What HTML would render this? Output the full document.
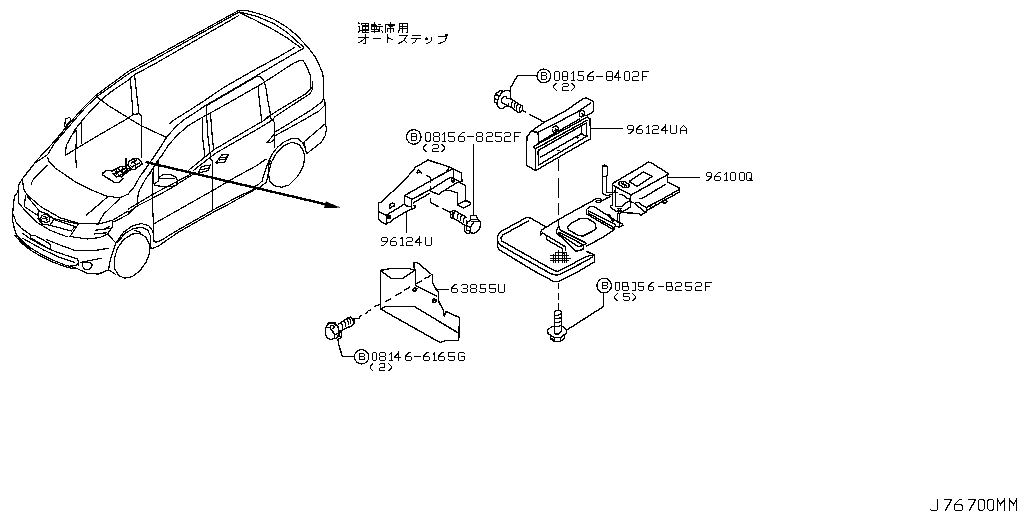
<!DOCTYPE html>
<html><head><meta charset="utf-8"><title>J76700MM</title>
<style>
html,body{margin:0;padding:0;background:#fff;font-family:"Liberation Sans",sans-serif;}
svg{display:block;position:absolute;left:0;top:0}
</style></head>
<body>
<svg width="1024" height="512" viewBox="0 0 1024 512" shape-rendering="crispEdges">
<rect width="1024" height="512" fill="#fff"/>
<g fill="none" stroke="#000" stroke-width="1.2" stroke-linejoin="round" stroke-linecap="butt">
<path d="M52.00,144.00 L66.00,127.50 L71.00,121.50 L83.50,107.50 L95.00,96.00 L112.50,83.00 L128.00,71.60 L142.40,63.50 L190.00,37.30 L238.60,10.50 L246.50,10.50
M54.00,144.00 L68.00,127.50 L85.00,108.00 L97.00,96.50 L113.00,85.00 L129.00,73.50 L146.75,63.75 L238.60,12.30
M67.25,143.75 L74.75,130.00 L83.50,118.75 L101.00,100.00 L110.00,92.50 L128.50,80.00 L134.00,75.00 L155.00,63.70 L238.60,15.60
M65.40,118.75 L69.75,117.50 L71.00,120.00 L68.50,122.50 L66.00,126.25 L64.75,126.25 L65.40,118.75
M246.50,10.60 L261.50,14.40 L274.00,19.40 L286.50,26.90 L296.50,35.00 L307.50,46.90
M239.00,11.90 L256.50,16.25 L274.00,23.75 L286.50,31.90 L304.00,47.50
M239.00,12.50 L255.00,20.00 L274.00,30.00 L286.50,37.50 L301.00,48.00
M307.50,46.90 L314.60,56.00 L319.00,64.75 L322.75,73.50 L323.50,81.00 L323.50,97.25 L324.00,99.00 L325.00,102.25 L325.50,119.75 L325.50,123.25 L326.50,129.50 L325.25,135.75 L321.50,142.00 L306.50,153.90
M169.25,124.00 L174.25,119.75 L186.75,112.00 L203.00,101.60 L224.00,87.25 L256.00,69.00 L279.00,56.60 L294.60,47.50
M141.00,175.00 L146.75,167.00 L153.00,158.25 L160.50,147.00 L166.75,137.00 L175.50,127.00 L184.25,119.50 L194.25,113.25 L205.50,105.40 L224.00,94.75 L256.00,76.00 L289.00,56.60 L304.00,48.00
M205.50,106.20 L224.00,95.50 L256.00,76.80
M149.25,175.00 L153.00,168.25 L158.00,160.00 L161.75,155.75 L168.00,145.75 L176.75,135.75 L188.00,125.75 L198.00,119.75 L210.50,112.90 L224.00,105.40 L259.00,85.40 L265.25,81.60 L294.00,62.90 L300.25,60.40 L303.40,61.00 L306.50,66.00 L310.25,75.40 L311.00,89.00 L305.25,94.00 L271.00,114.75 L265.25,118.50
M312.50,81.00 L312.50,89.00 L310.25,93.50 L274.00,117.25
M256.00,76.00 L260.25,76.60 L264.00,81.00 L266.00,88.50 L267.75,99.75 L270.50,114.75 L270.50,117.60 L274.50,122.60 L274.50,148.25
M258.40,86.00 L259.00,97.25 L261.50,119.75 L261.50,122.00
M295.25,119.75 L311.50,109.75 L321.50,102.25 L323.40,98.50
M304.00,119.75 L319.00,111.00 L324.00,106.00
M275.00,132.00 L295.25,119.75
M275.00,135.75 L304.00,119.75
M188.00,170.75 L214.25,149.50 L256.00,125.00 L261.50,122.00 L271.00,115.50
M193.00,170.75 L215.50,153.25 L256.00,130.00 L270.25,121.40 L274.00,118.50
M275.00,134.50 L274.00,134.50 L267.00,142.50 L270.25,142.50 L275.00,138.90
M325.00,123.90 L304.00,142.00 L306.50,153.90
M251.50,188.00 L257.75,185.00 L262.00,181.25 L264.00,174.50 L266.50,167.00 L269.00,160.75 L272.75,153.25 L277.75,147.00 L284.00,142.00 L291.50,138.50 L297.75,138.50 L302.75,142.60 L305.25,148.25 L306.50,153.90
M267.75,175.75 L271.50,162.00 L276.50,153.25 L282.75,146.40 L292.00,142.00 L299.00,144.50 L302.75,149.50 L304.00,153.25
M304.00,153.25 L304.60,159.50 L302.75,167.50 L297.75,176.25 L289.00,185.00 L281.50,187.25 L274.00,185.60 L269.60,181.25 L268.40,172.50 L269.00,163.75 L271.00,160.00
M130.40,79.00 L133.00,114.40
M134.50,75.00 L139.00,113.75
M128.50,118.00 L133.00,114.40 L139.00,113.75 L141.50,116.25 L141.50,125.60 L141.50,157.60
M96.00,96.25 L101.00,100.00 L108.50,105.60 L128.50,118.00 L141.00,125.60 L166.75,137.60
M128.50,118.00 L96.25,136.60 L65.25,155.40 L66.25,145.40 L71.25,136.00 L76.60,130.00
M76.50,130.00 L76.50,136.00 L75.60,154.75 L76.50,168.50
M81.50,121.25 L81.50,143.50
M52.00,144.00 L36.25,161.00 L22.50,178.50 L18.75,184.75 L18.00,191.50 L14.40,196.50 L13.00,209.00 L12.50,220.25 L13.75,226.50 L16.25,234.00 L20.00,239.00 L25.00,244.00 L30.00,247.75
M58.75,136.00 L47.50,154.75 L35.00,162.90 L23.75,177.25
M47.50,156.60 L48.75,161.00 L55.00,167.90 L75.00,181.60 L92.50,190.40 L106.25,196.00 L120.00,197.90 L128.00,194.00
M47.50,164.75 L32.50,180.40 L31.25,184.75
M107.50,197.00 L86.25,215.25
M120.00,198.40 L103.75,214.00 L98.75,222.75
M22.50,178.50 L23.00,184.00 L23.75,189.00 L26.90,194.60 L41.25,207.00 L60.00,217.75 L78.75,223.40 L98.75,224.00 L112.50,220.25 L128.00,211.00
M113.50,222.00 L128.00,214.50 L137.40,205.50
M18.50,191.50 L18.50,202.75 L23.75,209.00 L37.50,222.75 L50.00,230.25 L67.50,237.00
M25.60,194.60 L24.40,206.50 L37.50,215.25 L38.75,210.25 L26.90,195.90
M38.75,210.25 L55.00,219.00 L77.50,224.00
M38.75,211.00 L47.50,214.00 L53.75,219.60 L50.00,225.25 L42.50,224.00 L38.00,219.00 L38.75,211.00
M53.75,219.60 L75.00,226.50 L71.25,231.00 L50.00,225.25
M37.50,215.25 L42.50,224.00
M41.50,216.00 L44.00,214.50 L48.00,215.00 L50.00,218.00 L49.00,221.50 L45.50,222.50 L42.00,221.00 L40.80,218.50 L41.50,216.00
M42.50,218.00 L48.50,219.50
M43.50,216.50 L47.00,217.50 L46.50,221.00
M78.75,223.40 L70.00,236.50 L87.50,239.00 L100.00,237.50 L107.50,234.00 L112.50,226.50 L112.50,220.25
M95.00,230.25 L110.00,228.40
M93.75,234.00 L107.50,232.75
M104.00,229.00 L110.00,226.50
M107.50,234.00 L115.00,242.00 L116.90,242.60
M108.50,269.75 L110.40,259.75 L114.75,246.00 L116.00,242.90 L123.50,232.25 L132.25,226.00 L141.00,223.50 L148.50,225.40 L152.90,231.00 L154.00,241.00
M117.25,242.90 L124.75,233.50 L133.50,228.50 L142.25,227.25 L147.90,230.40 L150.40,236.00 L151.00,249.00
M133.50,229.80 L141.00,232.50
M139.75,233.50 L146.00,237.25 L149.50,244.75 L149.50,253.50 L146.00,262.25 L139.75,271.00 L132.25,276.60 L124.75,278.25 L118.50,275.40 L114.50,268.50 L114.50,258.50 L117.25,248.50 L123.50,239.75 L132.25,234.00 L139.75,233.50
M153.00,171.75 L152.50,184.25 L152.50,205.50 L153.50,223.60 L153.50,241.00 L156.00,242.25 L161.00,240.40 L175.50,231.50 L213.00,210.00 L240.25,195.50 L252.75,190.00 L260.25,187.00 L266.50,182.00 L267.75,175.75
M151.00,249.00 L158.50,246.00 L178.00,232.50 L215.50,211.00 L224.00,206.90 L242.75,196.25 L255.25,189.40
M154.25,223.60 L211.75,191.00 L238.00,175.75 L256.00,166.00 L264.00,160.50 L266.50,159.00
M96.00,274.75 L103.50,272.25 L108.50,269.75 L116.00,274.75
M15.60,233.25 L22.50,241.40 L31.25,248.25 L41.25,254.50 L52.50,260.00 L65.00,265.00 L75.00,267.60 L87.50,273.50 L98.75,273.50 L108.75,270.00
M14.50,235.00 L21.50,243.00 L30.25,250.00 L40.50,256.20 L52.00,261.70 L64.50,266.50 L75.00,269.00
M22.50,233.25 L31.25,239.50 L50.00,249.50 L65.00,255.00 L77.50,258.90 L78.75,262.00 L76.25,265.50 L70.00,265.50
M22.50,238.25 L43.75,250.00 L60.00,257.60 L75.00,262.60
M30.60,235.50 L35.00,235.50 L42.50,239.50 L50.00,243.90 L50.60,249.50 L42.50,245.00 L30.50,237.60 L30.50,235.00
M46.25,239.50 L60.00,245.00 L75.00,250.50 L95.00,250.50 L108.75,248.25
M82.00,265.50 L83.00,262.80 L86.00,262.50 L90.00,262.50 L92.20,264.50 L91.50,267.50 L88.50,269.50 L84.50,269.50 L82.00,265.50
M80.00,262.60 L92.50,260.00 L101.90,258.25
M78.50,262.00 L78.50,266.00
M158.60,178.00 L163.00,174.50 L170.50,174.50 L176.00,177.40 L177.40,180.50 L176.75,184.90 L171.75,186.50 L164.25,186.50 L154.50,185.50 L154.50,183.60 L158.50,181.00 L158.50,178.00
M153.50,167.00 L153.50,184.00
M158.90,178.50 L174.50,178.50
M158.00,159.50 L158.60,181.00
M128.00,209.25 L137.40,203.50 L151.75,194.90 L190.50,174.25
M128.00,212.40 L138.00,205.50 L151.75,198.60 L169.25,189.25 L188.00,177.40 L195.50,173.00
M146.75,168.00 L140.50,175.50 L134.25,186.75 L128.00,194.25
M152.40,169.25 L145.50,179.25 L139.25,190.50 L138.00,195.50 L137.40,205.50
M202.50,118.25 L202.50,137.00 L205.00,157.00
M206.50,106.00 L206.50,113.25 L208.00,137.00 L210.50,157.00 L211.00,159.50 L212.50,160.75 L212.50,210.00
M210.50,113.25 L211.75,130.75 L213.60,150.00
M215.50,163.25 L221.75,155.00 L228.60,154.50 L225.00,162.00 L215.50,163.25
M219.00,160.00 L226.00,159.00
M220.50,157.50 L227.50,157.00
M198.00,173.25 L201.75,166.40 L210.50,165.00 L208.00,170.75 L198.00,173.25
M200.00,170.00 L209.00,168.00
M12.80,222.00 L14.50,229.00 L17.00,235.50 L21.00,241.00 L26.00,246.00 L31.00,249.50
M13.30,214.00 L16.00,222.00 L21.00,228.00 L30.60,234.80"/>
</g>
<g fill="none" stroke="#000" stroke-width="1.4" stroke-linejoin="round" stroke-linecap="butt">
<path d="M378.30,202.50 L381.00,202.50 L389.25,194.60 L400.50,184.00 L413.75,170.00 L415.00,167.50 L423.75,162.50 L428.00,160.00 L449.40,167.00 L446.25,172.00 L430.60,180.60
M426.25,175.60 L430.50,177.50 L430.50,182.50
M416.50,173.00 L418.50,170.00 L422.00,173.50
M416.50,173.00 L420.00,172.50
M449.40,167.00 L453.00,168.50 L461.25,173.00 L462.00,181.25 L459.40,183.00
M453.50,168.50 L453.50,182.50
M453.00,168.50 L424.90,184.00 L406.75,194.30 L404.50,195.60
M450.00,177.50 L430.50,189.60 L411.75,199.30 L405.50,195.90
M404.50,195.60 L404.50,204.30 L406.75,205.90 L411.00,206.80 L412.00,209.00
M411.50,199.30 L411.50,209.00 L406.10,211.60 L400.50,215.00 L394.25,218.75 L389.90,222.20 L387.40,223.10 L386.40,224.40 L380.50,221.25 L378.50,219.40 L378.50,202.40
M413.00,203.10 L430.00,193.10
M412.00,209.00 L414.25,208.00 L415.80,206.20 L413.00,205.50
M430.50,186.25 L430.50,191.25 L438.75,194.40 L443.75,190.50 L450.00,190.50 L457.50,193.00 L457.50,205.00 L463.75,208.00 L470.50,204.40 L470.50,202.50 L465.50,200.00 L465.50,185.60 L460.00,183.00
M457.50,204.40 L465.00,200.60 L470.60,203.00
M450.00,177.50 L459.40,181.25 L445.00,190.00
M451.00,179.00 L452.50,178.00 L454.50,179.00 L454.50,181.00 L452.50,182.00 L451.50,181.00 L451.50,179.00
M451.00,180.50 L454.00,180.50
M378.30,211.25 L386.50,215.30 L386.50,224.40
M386.10,215.30 L389.90,212.80 L395.50,209.70 L400.50,206.60 L404.25,204.00
M389.30,206.50 L390.30,204.30 L392.50,203.20 L394.50,204.00 L394.50,205.80 L392.50,206.50 L390.30,208.00 L389.30,207.80 L389.30,206.50
M386.75,215.50 L390.50,215.50 L390.50,218.50 L386.75,218.50
M386.75,217.50 L390.50,217.50
M387.00,216.50 L390.50,216.50
M406.50,211.90 L406.50,232.50
M473.50,144.40 L473.50,215.60
M450.40,212.40 L453.50,210.25 L457.90,212.40 L466.60,217.40
M450.50,212.40 L450.50,217.40 L456.60,220.00 L463.50,224.50 L465.40,224.50
M454.60,211.30 L453.50,214.30 L453.50,217.50
M458.40,213.20 L457.50,216.20 L457.50,219.40
M461.60,215.00 L460.50,218.00 L460.50,221.20
M464.60,216.80 L463.50,219.80 L463.50,223.00
M452.80,211.20 L452.20,214.50 L453.00,218.00
M465.40,224.60 L464.50,225.90 L464.50,230.90 L466.60,233.50 L469.75,233.50
M466.50,220.25 L466.50,230.25 L468.50,230.90
M470.00,216.20 L473.50,214.90 L476.60,216.20 L477.90,219.60 L480.50,222.10 L480.50,225.90 L479.10,229.00 L476.60,232.10 L473.50,233.40 L470.70,232.75 L470.50,230.25 L470.50,227.10
M470.50,216.20 L470.50,220.60 L467.25,222.10 L466.60,224.60
M470.00,219.50 L477.25,219.50
M471.00,221.50 L479.10,221.50
M474.10,221.50 L471.00,226.50 L470.40,227.10
M467.25,225.90 L470.40,227.10
M469.50,230.25 L469.50,233.40
M536.90,75.50 L517.50,75.50 L512.70,84.00 L510.50,87.75 L510.50,90.90
M503.00,90.50 L500.80,90.50 L498.30,91.80 L495.80,94.00 L494.50,96.20 L494.50,102.50 L496.10,102.50 L498.00,106.50 L500.50,108.50 L503.00,108.50 L505.50,106.50 L510.50,106.50
M503.00,90.50 L501.10,93.40 L498.90,97.10 L497.50,100.90 L497.50,104.60
M494.90,98.70 L498.00,100.25
M496.00,94.50 L499.00,96.00
M503.00,91.50 L506.75,90.25 L509.90,90.90 L510.50,92.10 L510.50,98.70
M504.25,96.20 L502.00,98.40 L501.40,101.50 L503.00,103.40 L506.75,105.25 L508.00,105.90
M504.25,96.50 L506.50,96.50 L506.50,98.50 L510.50,98.50
M508.50,102.75 L508.50,105.90
M510.50,98.70 L522.50,106.20 L522.50,110.25 L520.50,112.50 L518.00,112.50 L510.20,106.50
M512.80,100.20 L511.50,103.40 L511.50,106.50
M515.60,101.90 L514.50,105.10 L514.50,108.20
M518.40,103.60 L516.50,106.80 L516.50,109.90
M521.00,105.30 L519.50,108.50 L519.50,111.60
M526.90,136.90 L531.25,131.25 L538.00,132.50 L538.75,142.50
M526.90,136.90 L526.25,165.00 L535.50,170.60 L535.50,148.75
M531.25,131.25 L543.75,122.50 L565.00,111.25 L582.50,99.00 L586.25,97.75 L593.50,101.50 L593.50,111.50 L587.50,115.25
M538.00,132.50 L555.00,123.75 L577.50,111.90 L591.00,102.75
M538.75,142.50 L580.00,118.75
M533.75,146.90 L536.25,145.00 L587.50,116.90 L590.00,118.75 L590.60,138.75 L535.60,170.60
M533.75,146.90 L535.60,148.75 L587.50,120.00
M538.00,150.60 L586.25,123.00 L586.90,136.25 L538.75,165.00 L538.00,150.60
M581.50,126.25 L581.50,133.75 L586.25,136.25
M581.25,133.75 L540.00,157.50
M556.50,150.50 L559.50,150.50
M576.50,138.00 L579.50,137.50
M552.50,128.50 L553.50,126.50 L556.00,126.00 L558.50,127.50 L558.50,130.50 L556.50,132.50 L554.00,132.50 L552.50,131.00 L552.50,128.50
M555.00,128.00 L557.50,131.00
M555.50,129.50 L557.50,129.50
M554.50,130.50 L557.00,132.00
M556.50,128.50 L556.50,132.00
M555.50,132.00 L557.00,133.50
M579.00,112.50 L580.50,110.50 L583.00,110.50 L584.50,112.50 L584.00,115.50 L582.00,117.00 L580.00,116.50 L579.50,115.00 L579.50,112.50
M581.50,113.00 L583.50,116.00
M581.50,114.50 L584.00,114.50
M582.50,112.50 L582.50,116.50
M584.00,115.50 L587.50,115.50
M591.25,128.50 L623.00,128.50
M612.90,183.25 L644.75,164.50 L648.50,162.00 L651.00,162.60 L667.90,173.25 L667.90,174.50 L631.00,195.00 L612.50,185.00 L612.50,183.25
M629.00,181.40 L643.50,172.00 L652.25,176.40 L637.25,186.40 L629.00,181.40
M618.50,183.00 L620.50,181.50 L624.50,181.50 L628.50,184.00 L629.50,186.00 L627.50,187.50 L623.50,187.50 L619.50,185.00 L618.50,183.00
M621.00,183.00 L627.00,186.00
M623.00,182.50 L625.00,186.50
M612.50,185.00 L612.50,194.10 L612.50,204.75 L610.40,206.30 L611.00,207.90 L614.10,210.00 L616.60,212.25
M615.50,186.50 L615.50,192.25 L615.50,206.50 L621.60,206.50 L626.60,202.25 L630.00,201.00
M630.50,194.40 L630.50,207.00 L622.90,211.50 L621.00,211.50
M619.10,194.50 L622.25,194.50 L626.00,197.60 L630.00,199.40
M667.50,174.50 L667.50,182.00 L679.50,188.25 L679.50,192.00 L660.00,202.90 L647.25,210.40 L646.00,212.25
M639.10,198.50 L642.00,198.50 L660.00,187.60 L666.00,184.25
M630.40,201.60 L633.50,202.60 L638.50,206.60 L642.90,210.40 L645.40,212.25
M635.40,202.50 L639.10,202.50 L642.25,205.40 L646.00,207.25 L646.60,210.40
M646.60,207.25 L660.00,200.40 L679.00,189.50
M667.90,177.50 L699.75,177.50
M621.00,212.50 L627.25,212.50 L627.90,213.50 L632.90,213.50 L639.10,213.50 L641.00,215.00 L643.50,213.50 L646.00,212.25
M628.00,212.50 L633.00,212.50
M662.50,198.00 L665.50,199.50 L667.00,202.00 L665.00,203.50 L663.00,202.50 L662.50,198.00
M655.00,203.00 L657.00,205.50
M650.00,206.00 L651.50,208.50
M672.00,193.00 L673.00,196.50
M602.25,166.40 L604.75,165.00 L607.50,166.40 L607.50,175.00 L606.50,176.40 L606.50,192.50 L614.50,192.50 L614.50,190.40
M602.50,166.40 L602.50,193.50 L606.60,195.50 L609.10,195.50 L610.40,194.50 L612.60,194.50
M602.25,166.50 L607.90,166.50
M603.00,176.50 L606.60,176.50
M614.75,192.50 L617.60,192.50
M616.60,208.50 L621.60,208.50
M617.00,210.50 L621.50,210.50
M617.00,211.50 L621.50,211.50
M618.50,208.00 L618.50,214.00
M620.50,208.00 L620.50,214.00
M617.50,213.00 L617.50,221.00 L618.75,222.50
M619.50,213.00 L619.50,227.50
M540.60,230.60 L558.75,219.40 L595.00,199.40 L596.50,198.50 L599.75,198.50 L602.25,200.70 L606.00,198.50 L611.00,196.30
M540.50,230.60 L540.50,235.00 L543.00,233.00 L540.60,230.60
M543.00,233.00 L546.50,235.60 L546.50,239.40 L562.50,248.75 L563.00,253.75
M546.90,235.60 L565.50,246.90 L565.50,251.25
M557.50,227.50 L558.75,226.25 L560.00,230.00 L585.00,242.50 L586.25,243.75 L583.75,245.00 L583.00,249.40 L576.25,251.25 L556.25,232.50 L557.50,227.50
M558.50,231.80 L583.75,245.00
M557.50,233.00 L578.75,246.90
M583.75,245.00 L578.75,246.90
M567.50,226.90 L572.50,222.50 L580.00,218.50 L587.50,218.50 L595.00,223.00 L596.25,228.75 L591.25,231.90 L582.50,236.25 L577.50,235.00 L568.75,230.00 L567.50,226.90
M586.90,208.75 L591.25,206.25 L594.40,206.90 L618.75,222.50 L622.50,223.75 L623.00,225.60 L618.75,226.90 L614.40,226.25 L613.75,230.00 L586.50,213.75 L586.50,208.75
M588.00,210.60 L616.00,225.00
M588.00,213.00 L613.75,227.50
M613.75,230.00 L602.50,237.50 L586.25,246.25
M587.50,251.90 L590.00,253.10
M595.50,201.50 L597.00,200.50 L599.50,200.50 L600.80,201.50 L599.50,202.50 L597.00,202.50 L595.50,201.50
M608.00,214.00 L613.00,221.50
M609.00,214.00 L614.00,221.50
M546.75,227.40 L530.50,218.00 L526.75,217.40 L501.75,231.00 L498.60,233.60 L497.50,236.75 L497.50,246.75 L499.25,249.90 L535.50,271.75 L553.75,281.50 L558.75,281.50 L578.00,271.75 L594.50,261.75 L594.50,254.90 L586.75,251.00
M529.25,220.50 L503.00,234.90 L501.00,238.00 L501.75,241.00 L554.00,270.50 L557.50,271.50 L559.25,270.80 L572.50,264.00 L582.25,258.40 L589.75,255.50 L594.10,255.50
M497.60,240.50 L499.50,244.50 L513.00,252.50 L550.50,273.50 L556.25,275.25 L560.00,274.30 L580.00,264.00 L592.90,256.90
M555.40,252.50 L567.00,252.50
M550.00,255.50 L569.00,255.50
M550.00,258.50 L571.00,258.50
M550.00,260.50 L569.00,260.50
M553.50,254.40 L553.50,262.80
M555.50,252.20 L555.50,262.80
M558.50,250.00 L558.50,262.80
M562.50,250.00 L562.50,262.80
M564.50,252.20 L564.50,262.80
M566.50,252.20 L566.50,262.80
M554.50,333.20 L554.50,312.20 L555.50,310.40 L560.60,310.90 L561.50,312.60 L561.50,331.50
M554.20,315.50 L558.00,315.50 L561.50,313.70
M554.20,318.50 L558.00,318.50 L561.50,317.60
M554.20,322.50 L558.00,322.50 L561.50,321.40
M554.20,326.50 L558.00,326.50 L561.50,325.30
M554.20,333.20 L557.20,334.50 L560.60,332.40 L561.50,331.50
M554.20,326.50 L551.60,326.50 L547.30,330.60 L548.20,333.60 L550.80,335.40
M561.50,326.30 L564.10,327.20 L566.50,329.80 L566.50,333.20 L564.10,334.90 L562.40,335.40
M550.80,335.40 L550.30,338.40 L553.80,341.50 L559.80,341.50 L563.20,339.70 L564.50,337.50 L564.50,334.50
M550.80,335.40 L553.80,337.50 L560.60,337.50 L564.10,334.90
M554.50,337.10 L554.50,341.40
M560.50,337.10 L560.50,341.40
M551.60,338.00 L553.30,340.00
M603.50,293.40 L603.50,306.50 L592.00,313.90 L567.10,329.80
M380.50,270.40 L390.50,268.50 L409.25,268.50 L414.90,270.40 L402.40,278.50 L391.00,278.50 L380.50,270.40
M380.50,270.40 L380.50,309.00
M415.50,270.40 L415.50,285.40
M413.60,262.50 L417.40,262.50 L431.00,274.00 L432.50,275.40 L432.50,283.00 L436.00,289.00 L438.50,292.25 L438.50,301.00 L443.60,311.00 L444.25,316.00 L446.00,311.60 L459.50,317.50 L458.75,340.50 L446.25,340.50 L440.00,342.50 L380.50,309.00
M413.50,262.25 L413.50,267.25 L415.25,269.75
M414.50,262.50 L414.50,267.50
M415.25,285.40 L437.40,296.60
M380.50,309.00 L386.00,306.50 L414.25,306.50 L457.50,332.50 L459.25,333.75
M413.50,288.50 L415.50,287.70 L417.00,288.80 L416.00,290.80 L414.00,291.50 L413.00,290.20 L413.50,288.50
M414.00,290.80 L416.50,289.00
M432.00,300.00 L434.00,299.00 L436.50,299.80 L436.50,301.50 L434.00,302.50 L432.50,302.00 L432.50,300.00
M432.50,301.70 L435.50,300.00
M436.00,289.50 L449.25,289.50
M325.20,328.60 L326.75,326.70 L327.40,323.90 L329.60,322.50 L334.60,322.50 L336.75,324.80 L338.00,326.40 L338.50,330.10 L338.50,333.60 L338.00,337.00 L336.10,338.50 L333.60,338.50 L332.10,339.50 L330.20,339.50 L327.40,338.25 L325.80,335.10 L325.50,333.25 L325.50,328.60
M327.40,327.50 L330.50,327.50 L330.50,328.90 L332.70,330.75 L333.30,333.25 L334.50,334.50 L334.50,338.25
M330.50,327.00 L330.50,325.50 L333.00,325.50 L334.25,327.30 L332.40,328.90
M334.60,334.50 L338.00,333.60
M327.80,324.50 L330.00,323.50 L334.00,323.50 L336.00,326.00
M338.60,330.10 L341.10,332.00 L341.75,335.10 L340.50,338.25 L338.00,338.90
M339.50,330.75 L339.50,337.00
M338.00,324.80 L339.90,323.25 L347.40,318.25 L350.80,317.00 L352.10,318.50 L354.50,318.50 L354.50,323.25 L351.10,326.10 L345.50,328.60 L341.75,330.50 L339.25,330.50
M340.80,322.70 L342.50,325.50 L342.50,328.90
M343.60,320.90 L345.50,323.70 L345.50,327.10
M346.40,319.10 L348.50,321.90 L348.50,325.30
M349.20,317.60 L350.50,320.40 L350.50,323.80
M352.10,318.25 L353.50,321.05 L353.50,324.45
M338.00,338.90 L338.60,343.90 L342.25,356.50 L354.00,356.50
M110.70,170.50 L106.30,170.50 L102.50,173.40 L102.50,175.00 L111.60,180.60 L114.00,182.50 L118.50,182.50 L123.50,178.00
M110.70,170.30 L112.00,172.00
M112.00,171.00 L120.00,166.50 L127.00,166.50
M112.00,173.00 L116.00,176.50 L122.00,176.50 L128.00,171.50
M114.00,170.00 L122.00,178.00
M118.00,168.00 L124.00,175.00
M113.00,174.50 L126.00,168.00
M116.00,177.50 L130.00,169.50
M122.50,167.00 L122.50,176.00
M116.50,169.00 L116.50,175.00
M128.50,161.90 L133.50,158.50 L138.50,158.50 L142.50,163.75 L139.75,165.60 L134.75,169.50 L131.60,169.50 L128.50,165.60 L128.50,161.90
M131.00,163.00 L137.00,160.00
M132.00,167.00 L140.00,162.50
M134.00,159.00 L136.00,168.00
M130.00,165.00 L133.00,168.00
M128.00,171.50 L131.60,169.40
M127.00,166.00 L128.50,164.40
M124.00,172.00 L130.00,167.50
M125.00,166.50 L128.00,170.50
M125.50,158.00 L125.50,165.50
M126.50,158.00 L126.50,165.50
M430.50,197.50 L430.50,202.50 L438.75,206.90
M441.90,208.00 L450.00,212.50
M523.00,110.25 L525.80,112.40
M529.25,114.30 L532.70,116.00 L543.75,122.00
M558.50,159.00 L558.50,171.00
M558.50,177.50 L558.50,197.50
M558.50,203.00 L558.50,214.50
M558.50,218.50 L558.50,227.00
M558.50,282.50 L558.50,289.00
M558.50,292.50 L558.50,300.00
M558.50,303.40 L558.50,310.00
M368.50,311.00 L371.00,309.60
M374.25,306.60 L380.50,304.10
M385.50,301.60 L391.10,298.50
M394.90,296.00 L401.75,292.25
M404.25,290.40 L410.50,286.60
M414.90,284.10 L421.75,281.00
M424.25,278.50 L429.25,276.60 L430.50,274.75
M354.60,318.50 L358.60,318.50 L361.40,315.40
M365.20,313.60 L368.00,312.00"/>
</g>
<g fill="none" stroke="#000" stroke-width="1.3" stroke-linecap="square" stroke-linejoin="miter">
<path d="M555.5,71.5 L558.5,71.5 L559.5,72.5 L559.5,79.5 L558.5,80.5 L555.5,80.5 L554.5,79.5 L554.5,72.5 Z M563.5,71.5 L566.5,71.5 L567.5,72.5 L567.5,75.5 L566.5,76.5 L563.5,76.5 L562.5,75.5 L562.5,72.5 Z M563.5,76.5 L562.5,76.5 L562.5,79.5 L563.5,80.5 L566.5,80.5 L567.5,79.5 L567.5,76.5 L566.5,76.5 M571.5,73.5 L573.5,71.5 L573.5,80.5 M571.5,80.5 L574.5,80.5 M583.5,71.5 L578.5,71.5 L578.5,75.5 L582.5,75.5 L583.5,76.5 L583.5,79.5 L582.5,80.5 L578.5,80.5 L577.5,79.5 M593.5,71.5 L591.5,72.5 L587.5,75.5 L587.5,79.5 L588.5,80.5 L592.5,80.5 L593.5,79.5 L593.5,76.5 L592.5,76.5 L588.5,76.5 M596.5,76.5 L602.5,76.5 M607.5,71.5 L611.5,71.5 L612.5,72.5 L612.5,75.5 L611.5,76.5 L607.5,76.5 L606.5,75.5 L606.5,72.5 Z M607.5,76.5 L606.5,76.5 L606.5,79.5 L607.5,80.5 L611.5,80.5 L612.5,79.5 L612.5,76.5 L611.5,76.5 M618.5,80.5 L618.5,71.5 L614.5,77.5 L620.5,77.5 M625.5,71.5 L628.5,71.5 L629.5,72.5 L629.5,79.5 L628.5,80.5 L625.5,80.5 L624.5,79.5 L624.5,72.5 Z M632.5,72.5 L633.5,71.5 L637.5,71.5 L638.5,72.5 L638.5,75.5 L637.5,76.5 L633.5,76.5 L632.5,77.5 L632.5,80.5 L638.5,80.5 M642.5,80.5 L642.5,71.5 L648.5,71.5 M642.5,76.5 L646.5,76.5
M426.5,132.5 L429.5,132.5 L430.5,133.5 L430.5,139.5 L429.5,141.5 L426.5,141.5 L425.5,139.5 L425.5,133.5 Z M434.5,132.5 L438.5,132.5 L439.5,133.5 L439.5,135.5 L438.5,136.5 L434.5,136.5 L433.5,135.5 L433.5,133.5 Z M434.5,136.5 L433.5,137.5 L433.5,140.5 L434.5,141.5 L438.5,141.5 L439.5,140.5 L439.5,137.5 L438.5,136.5 M442.5,134.5 L444.5,132.5 L444.5,141.5 M442.5,141.5 L445.5,141.5 M454.5,132.5 L448.5,132.5 L448.5,136.5 L453.5,136.5 L454.5,137.5 L454.5,140.5 L453.5,141.5 L449.5,141.5 L448.5,140.5 M464.5,132.5 L462.5,132.5 L458.5,136.5 L458.5,140.5 L459.5,141.5 L463.5,141.5 L464.5,140.5 L464.5,137.5 L463.5,136.5 L459.5,136.5 M467.5,136.5 L473.5,136.5 M477.5,132.5 L481.5,132.5 L482.5,133.5 L482.5,135.5 L481.5,136.5 L477.5,136.5 L476.5,135.5 L476.5,133.5 Z M477.5,136.5 L476.5,137.5 L476.5,140.5 L477.5,141.5 L481.5,141.5 L482.5,140.5 L482.5,137.5 L481.5,136.5 M486.5,133.5 L487.5,132.5 L491.5,132.5 L492.5,133.5 L492.5,135.5 L491.5,136.5 L487.5,136.5 L486.5,137.5 L486.5,141.5 L492.5,141.5 M501.5,132.5 L495.5,132.5 L495.5,136.5 L500.5,136.5 L501.5,137.5 L501.5,140.5 L500.5,141.5 L496.5,141.5 L495.5,140.5 M504.5,133.5 L505.5,132.5 L509.5,132.5 L510.5,133.5 L510.5,135.5 L509.5,136.5 L505.5,136.5 L504.5,137.5 L504.5,141.5 L510.5,141.5 M514.5,141.5 L514.5,132.5 L520.5,132.5 M514.5,136.5 L518.5,136.5
M633.5,129.5 L628.5,129.5 L627.5,128.5 L627.5,126.5 L628.5,125.5 L632.5,125.5 L633.5,126.5 L633.5,129.5 L630.5,133.5 L628.5,133.5 M641.5,125.5 L639.5,125.5 L636.5,129.5 L636.5,132.5 L637.5,133.5 L641.5,133.5 L642.5,132.5 L642.5,130.5 L641.5,129.5 L636.5,129.5 M646.5,127.5 L648.5,125.5 L648.5,133.5 M646.5,133.5 L649.5,133.5 M652.5,126.5 L653.5,125.5 L657.5,125.5 L658.5,126.5 L658.5,128.5 L657.5,129.5 L653.5,129.5 L652.5,130.5 L652.5,133.5 L658.5,133.5 M665.5,133.5 L665.5,125.5 L661.5,130.5 L667.5,130.5 M670.5,125.5 L670.5,132.5 L671.5,133.5 L675.5,133.5 L676.5,132.5 L676.5,125.5 M680.5,133.5 L680.5,128.5 L683.5,125.5 L686.5,128.5 L686.5,133.5 M680.5,130.5 L686.5,130.5
M711.5,176.5 L707.5,176.5 L706.5,175.5 L706.5,173.5 L707.5,172.5 L710.5,172.5 L711.5,173.5 L711.5,176.5 L708.5,180.5 L706.5,180.5 M720.5,172.5 L718.5,172.5 L714.5,176.5 L714.5,179.5 L715.5,180.5 L719.5,180.5 L720.5,179.5 L720.5,177.5 L719.5,176.5 L715.5,176.5 M724.5,174.5 L726.5,172.5 L726.5,180.5 M724.5,180.5 L727.5,180.5 M731.5,172.5 L734.5,172.5 L735.5,173.5 L735.5,179.5 L734.5,180.5 L731.5,180.5 L730.5,179.5 L730.5,173.5 Z M740.5,172.5 L743.5,172.5 L744.5,173.5 L744.5,179.5 L743.5,180.5 L740.5,180.5 L739.5,179.5 L739.5,173.5 Z M747.5,172.5 L750.5,172.5 L751.5,173.5 L751.5,179.5 L750.5,180.5 L747.5,180.5 L746.5,179.5 L746.5,173.5 Z M749.5,178.5 L752.5,180.5
M387.5,241.5 L382.5,241.5 L381.5,240.5 L381.5,238.5 L382.5,237.5 L386.5,237.5 L387.5,238.5 L387.5,241.5 L383.5,245.5 L381.5,245.5 M395.5,237.5 L393.5,237.5 L390.5,240.5 L390.5,244.5 L391.5,245.5 L395.5,245.5 L396.5,244.5 L396.5,242.5 L395.5,241.5 L390.5,241.5 M400.5,238.5 L402.5,237.5 L402.5,245.5 M400.5,245.5 L403.5,245.5 M406.5,238.5 L407.5,237.5 L411.5,237.5 L412.5,238.5 L412.5,240.5 L411.5,241.5 L407.5,241.5 L406.5,242.5 L406.5,245.5 L412.5,245.5 M419.5,245.5 L419.5,237.5 L415.5,242.5 L421.5,242.5 M425.5,237.5 L425.5,244.5 L426.5,245.5 L430.5,245.5 L431.5,244.5 L431.5,237.5
M456.5,284.5 L454.5,284.5 L451.5,288.5 L451.5,291.5 L452.5,292.5 L456.5,292.5 L457.5,291.5 L457.5,289.5 L456.5,288.5 L451.5,288.5 M461.5,285.5 L462.5,284.5 L466.5,284.5 L467.5,285.5 L467.5,287.5 L466.5,288.5 L463.5,288.5 M466.5,288.5 L467.5,289.5 L467.5,291.5 L466.5,292.5 L462.5,292.5 L461.5,291.5 M471.5,284.5 L475.5,284.5 L476.5,285.5 L476.5,287.5 L475.5,288.5 L471.5,288.5 L470.5,287.5 L470.5,285.5 Z M471.5,288.5 L470.5,289.5 L470.5,291.5 L471.5,292.5 L475.5,292.5 L476.5,291.5 L476.5,289.5 L475.5,288.5 M485.5,284.5 L480.5,284.5 L480.5,288.5 L484.5,288.5 L485.5,288.5 L485.5,291.5 L484.5,292.5 L480.5,292.5 L479.5,291.5 M495.5,284.5 L489.5,284.5 L489.5,288.5 L494.5,288.5 L495.5,288.5 L495.5,291.5 L494.5,292.5 L490.5,292.5 L489.5,291.5 M498.5,284.5 L498.5,291.5 L499.5,292.5 L503.5,292.5 L504.5,291.5 L504.5,284.5
M373.5,352.5 L375.5,352.5 L376.5,353.5 L376.5,359.5 L375.5,360.5 L373.5,360.5 L372.5,359.5 L372.5,353.5 Z M380.5,352.5 L384.5,352.5 L385.5,353.5 L385.5,355.5 L384.5,356.5 L380.5,356.5 L379.5,355.5 L379.5,353.5 Z M380.5,356.5 L379.5,357.5 L379.5,359.5 L380.5,360.5 L384.5,360.5 L385.5,359.5 L385.5,357.5 L384.5,356.5 M389.5,354.5 L391.5,352.5 L391.5,360.5 M389.5,360.5 L392.5,360.5 M398.5,360.5 L398.5,352.5 L394.5,357.5 L400.5,357.5 M410.5,352.5 L408.5,352.5 L405.5,356.5 L405.5,359.5 L406.5,360.5 L410.5,360.5 L411.5,359.5 L411.5,357.5 L410.5,356.5 L405.5,356.5 M414.5,356.5 L420.5,356.5 M428.5,352.5 L426.5,352.5 L423.5,356.5 L423.5,359.5 L424.5,360.5 L428.5,360.5 L429.5,359.5 L429.5,357.5 L428.5,356.5 L423.5,356.5 M433.5,354.5 L434.5,352.5 L434.5,360.5 M433.5,360.5 L436.5,360.5 M443.5,352.5 L441.5,352.5 L438.5,356.5 L438.5,359.5 L439.5,360.5 L443.5,360.5 L444.5,359.5 L444.5,357.5 L443.5,356.5 L438.5,356.5 M454.5,352.5 L448.5,352.5 L448.5,356.5 L453.5,356.5 L454.5,356.5 L454.5,359.5 L453.5,360.5 L449.5,360.5 L448.5,359.5 M464.5,353.5 L463.5,352.5 L459.5,352.5 L458.5,353.5 L458.5,359.5 L459.5,360.5 L463.5,360.5 L464.5,359.5 L464.5,356.5 L461.5,356.5
M615.5,282.5 L619.5,282.5 L619.5,289.5 L618.5,290.5 L616.5,290.5 L615.5,289.5 Z M622.5,282.5 L627.5,282.5 L627.5,286.5 L627.5,286.5 L623.5,286.5 L622.5,286.5 Z M623.5,286.5 L622.5,286.5 L622.5,289.5 L623.5,290.5 L627.5,290.5 L628.5,289.5 L628.5,286.5 L627.5,286.5 M632.5,282.5 L635.5,282.5 L635.5,290.5 L632.5,290.5 M643.5,282.5 L638.5,282.5 L638.5,286.5 L642.5,286.5 L643.5,286.5 L643.5,289.5 L642.5,290.5 L639.5,290.5 L638.5,289.5 M653.5,282.5 L651.5,282.5 L648.5,286.5 L648.5,289.5 L649.5,290.5 L652.5,290.5 L653.5,289.5 L653.5,287.5 L652.5,286.5 L648.5,286.5 M658.5,286.5 L663.5,286.5 M666.5,282.5 L671.5,282.5 L671.5,286.5 L671.5,286.5 L667.5,286.5 L666.5,286.5 Z M667.5,286.5 L666.5,286.5 L666.5,289.5 L667.5,290.5 L671.5,290.5 L672.5,289.5 L672.5,286.5 L671.5,286.5 M675.5,283.5 L676.5,282.5 L680.5,282.5 L681.5,283.5 L681.5,285.5 L680.5,286.5 L676.5,286.5 L675.5,287.5 L675.5,290.5 L681.5,290.5 M691.5,282.5 L685.5,282.5 L685.5,286.5 L690.5,286.5 L691.5,286.5 L691.5,289.5 L690.5,290.5 L686.5,290.5 L685.5,289.5 M695.5,283.5 L696.5,282.5 L700.5,282.5 L701.5,283.5 L701.5,285.5 L700.5,286.5 L696.5,286.5 L695.5,287.5 L695.5,290.5 L701.5,290.5 M705.5,290.5 L705.5,282.5 L711.5,282.5 M705.5,286.5 L709.5,286.5
M556.5,83.5 L553.5,85.5 L553.5,87.5 L556.5,90.5 M562.5,84.5 L563.5,83.5 L567.5,83.5 L568.5,84.5 L568.5,85.5 L567.5,86.5 L563.5,86.5 L562.5,87.5 L562.5,90.5 L568.5,90.5 M571.5,83.5 L574.5,85.5 L574.5,87.5 L571.5,90.5
M426.5,144.5 L423.5,146.5 L423.5,149.5 L426.5,151.5 M432.5,145.5 L433.5,144.5 L437.5,144.5 L438.5,145.5 L438.5,147.5 L437.5,148.5 L433.5,148.5 L432.5,149.5 L432.5,151.5 L438.5,151.5 M441.5,144.5 L444.5,146.5 L444.5,149.5 L441.5,151.5
M372.5,363.5 L370.5,366.5 L370.5,368.5 L372.5,370.5 M379.5,364.5 L380.5,363.5 L384.5,363.5 L384.5,364.5 L384.5,366.5 L384.5,367.5 L380.5,367.5 L379.5,368.5 L379.5,370.5 L384.5,370.5 M388.5,363.5 L391.5,366.5 L391.5,368.5 L388.5,370.5
M617.5,293.5 L614.5,296.5 L614.5,298.5 L617.5,300.5 M629.5,293.5 L623.5,293.5 L623.5,296.5 L628.5,296.5 L629.5,297.5 L629.5,299.5 L628.5,300.5 L624.5,300.5 L623.5,299.5 M632.5,293.5 L635.5,296.5 L635.5,298.5 L632.5,300.5
M541.5,72.5 L541.5,79.5 L545.5,79.5 L546.5,78.5 L546.5,76.5 L545.5,75.5 L541.5,75.5 M545.5,75.5 L546.5,74.5 L546.5,73.5 L545.5,72.5 L541.5,72.5
M411.5,133.5 L411.5,140.5 L415.5,140.5 L416.5,139.5 L416.5,137.5 L415.5,136.5 L411.5,136.5 M415.5,136.5 L416.5,136.5 L416.5,134.5 L415.5,133.5 L411.5,133.5
M359.5,353.5 L359.5,359.5 L363.5,359.5 L364.5,359.5 L364.5,357.5 L363.5,356.5 L359.5,356.5 M363.5,356.5 L364.5,355.5 L364.5,354.5 L363.5,353.5 L359.5,353.5
M602.5,282.5 L602.5,288.5 L606.5,288.5 L607.5,287.5 L607.5,286.5 L606.5,285.5 L602.5,285.5 M606.5,285.5 L607.5,284.5 L607.5,282.5 L606.5,282.5 L602.5,282.5
M937.5,499.5 L937.5,509.5 L936.5,510.5 L931.5,510.5 L930.5,509.5
M944.5,499.5 L951.5,499.5 L945.5,510.5
M961.5,499.5 L959.5,499.5 L954.5,504.5 L954.5,509.5 L955.5,510.5 L961.5,510.5 L962.5,509.5 L962.5,506.5 L961.5,504.5 L954.5,504.5
M968.5,499.5 L975.5,499.5 L969.5,510.5
M979.5,499.5 L982.5,499.5 L984.5,500.5 L984.5,508.5 L982.5,510.5 L979.5,510.5 L978.5,508.5 L978.5,500.5 Z
M989.5,499.5 L992.5,499.5 L993.5,500.5 L993.5,508.5 L992.5,510.5 L989.5,510.5 L987.5,508.5 L987.5,500.5 Z
M997.5,510.5 L997.5,499.5 L1000.5,504.5 L1004.5,499.5 L1004.5,510.5
M1009.5,510.5 L1009.5,499.5 L1013.5,504.5 L1016.5,499.5 L1016.5,510.5"/>
</g>
<g fill="none" stroke="#000" stroke-width="1.05" stroke-linecap="square">
<path d="M358.20,37.50 L368.00,37.50
M365.50,34.40 L365.50,43.50 L363.20,43.50
M365.20,38.00 L361.00,41.50 L358.20,42.80
M373.70,38.50 L380.30,38.50
M387.50,34.40 L387.50,42.80
M387.60,37.60 L392.80,39.90
M399.50,35.50 L407.00,35.50 L403.90,40.40 L401.00,42.50 L398.20,43.50
M404.30,40.20 L407.00,43.00
M412.20,35.50 L420.00,35.50
M411.60,38.50 L420.30,38.50
M416.50,38.50 L415.00,42.20 L412.20,43.50
M431.50,37.20 L431.50,40.70 L429.40,42.60 L426.20,43.50
M438.10,36.50 L446.90,36.50 L445.00,41.00 L442.00,42.70 L438.10,43.50
M445.50,34.50 L447.70,34.50 L447.70,35.50 L445.50,35.50 L445.50,34.30"/>
</g>
<g fill="none" stroke="#000" stroke-width="1.25">
<circle cx="543.80" cy="75.90" r="6.85"/>
<circle cx="413.85" cy="136.95" r="7.30"/>
<circle cx="361.60" cy="356.80" r="7.15"/>
<circle cx="604.20" cy="285.60" r="7.30"/>
</g>
<g fill="#000" stroke="none"><rect x="358" y="22" width="1" height="1"/><rect x="358" y="23" width="2" height="1"/><rect x="361" y="23" width="8" height="1"/><rect x="361" y="24" width="1" height="1"/><rect x="365" y="24" width="1" height="1"/><rect x="368" y="24" width="1" height="1"/><rect x="362" y="25" width="7" height="1"/><rect x="358" y="26" width="2" height="1"/><rect x="362" y="26" width="7" height="1"/><rect x="359" y="27" width="1" height="1"/><rect x="362" y="27" width="1" height="1"/><rect x="365" y="27" width="1" height="1"/><rect x="368" y="27" width="1" height="1"/><rect x="359" y="28" width="1" height="1"/><rect x="362" y="28" width="1" height="1"/><rect x="365" y="28" width="1" height="1"/><rect x="368" y="28" width="1" height="1"/><rect x="359" y="29" width="1" height="1"/><rect x="362" y="29" width="7" height="1"/><rect x="359" y="30" width="10" height="1"/><rect x="358" y="31" width="2" height="1"/><rect x="362" y="31" width="1" height="1"/><rect x="365" y="31" width="1" height="1"/><rect x="358" y="32" width="1" height="1"/><rect x="362" y="32" width="7" height="1"/><rect x="374" y="22" width="1" height="1"/><rect x="374" y="23" width="1" height="1"/><rect x="371" y="24" width="5" height="1"/><rect x="378" y="24" width="3" height="1"/><rect x="371" y="25" width="6" height="1"/><rect x="371" y="26" width="6" height="1"/><rect x="377" y="26" width="6" height="1"/><rect x="371" y="27" width="1" height="1"/><rect x="374" y="27" width="1" height="1"/><rect x="376" y="27" width="1" height="1"/><rect x="379" y="27" width="1" height="1"/><rect x="371" y="28" width="1" height="1"/><rect x="374" y="28" width="1" height="1"/><rect x="376" y="28" width="1" height="1"/><rect x="379" y="28" width="1" height="1"/><rect x="371" y="29" width="9" height="1"/><rect x="374" y="30" width="1" height="1"/><rect x="378" y="30" width="2" height="1"/><rect x="381" y="30" width="1" height="1"/><rect x="371" y="31" width="9" height="1"/><rect x="382" y="31" width="1" height="1"/><rect x="374" y="32" width="1" height="1"/><rect x="382" y="32" width="1" height="1"/><rect x="390" y="22" width="1" height="1"/><rect x="390" y="23" width="1" height="1"/><rect x="385" y="24" width="10" height="1"/><rect x="385" y="25" width="1" height="1"/><rect x="388" y="25" width="7" height="1"/><rect x="385" y="26" width="1" height="1"/><rect x="389" y="26" width="4" height="1"/><rect x="385" y="27" width="1" height="1"/><rect x="390" y="27" width="1" height="1"/><rect x="385" y="28" width="1" height="1"/><rect x="387" y="28" width="7" height="1"/><rect x="385" y="29" width="1" height="1"/><rect x="387" y="29" width="1" height="1"/><rect x="390" y="29" width="1" height="1"/><rect x="393" y="29" width="1" height="1"/><rect x="385" y="30" width="1" height="1"/><rect x="387" y="30" width="1" height="1"/><rect x="390" y="30" width="1" height="1"/><rect x="393" y="30" width="1" height="1"/><rect x="385" y="31" width="1" height="1"/><rect x="387" y="31" width="1" height="1"/><rect x="390" y="31" width="1" height="1"/><rect x="393" y="31" width="1" height="1"/><rect x="385" y="32" width="1" height="1"/><rect x="390" y="32" width="1" height="1"/><rect x="399" y="23" width="9" height="1"/><rect x="399" y="24" width="1" height="1"/><rect x="402" y="24" width="1" height="1"/><rect x="407" y="24" width="1" height="1"/><rect x="399" y="25" width="1" height="1"/><rect x="402" y="25" width="1" height="1"/><rect x="407" y="25" width="1" height="1"/><rect x="399" y="26" width="9" height="1"/><rect x="399" y="27" width="1" height="1"/><rect x="402" y="27" width="1" height="1"/><rect x="407" y="27" width="1" height="1"/><rect x="399" y="28" width="9" height="1"/><rect x="399" y="29" width="1" height="1"/><rect x="402" y="29" width="1" height="1"/><rect x="407" y="29" width="1" height="1"/><rect x="398" y="30" width="2" height="1"/><rect x="402" y="30" width="1" height="1"/><rect x="407" y="30" width="1" height="1"/><rect x="398" y="31" width="1" height="1"/><rect x="402" y="31" width="1" height="1"/><rect x="407" y="31" width="1" height="1"/><rect x="398" y="32" width="1" height="1"/><rect x="402" y="32" width="1" height="1"/><rect x="406" y="32" width="2" height="1"/><rect x="426" y="37" width="1" height="1"/><rect x="425" y="38" width="3" height="1"/><rect x="425" y="39" width="3" height="1"/></g>
<g stroke="#000" fill="#000">
<path d="M145.5,162 L330,205.3" stroke-width="2.4" fill="none"/>
<path d="M339.5,207.4 L325.8,201.6 L324.4,208 Z" stroke-width="0.5"/>
</g>
</svg>
</body></html>
